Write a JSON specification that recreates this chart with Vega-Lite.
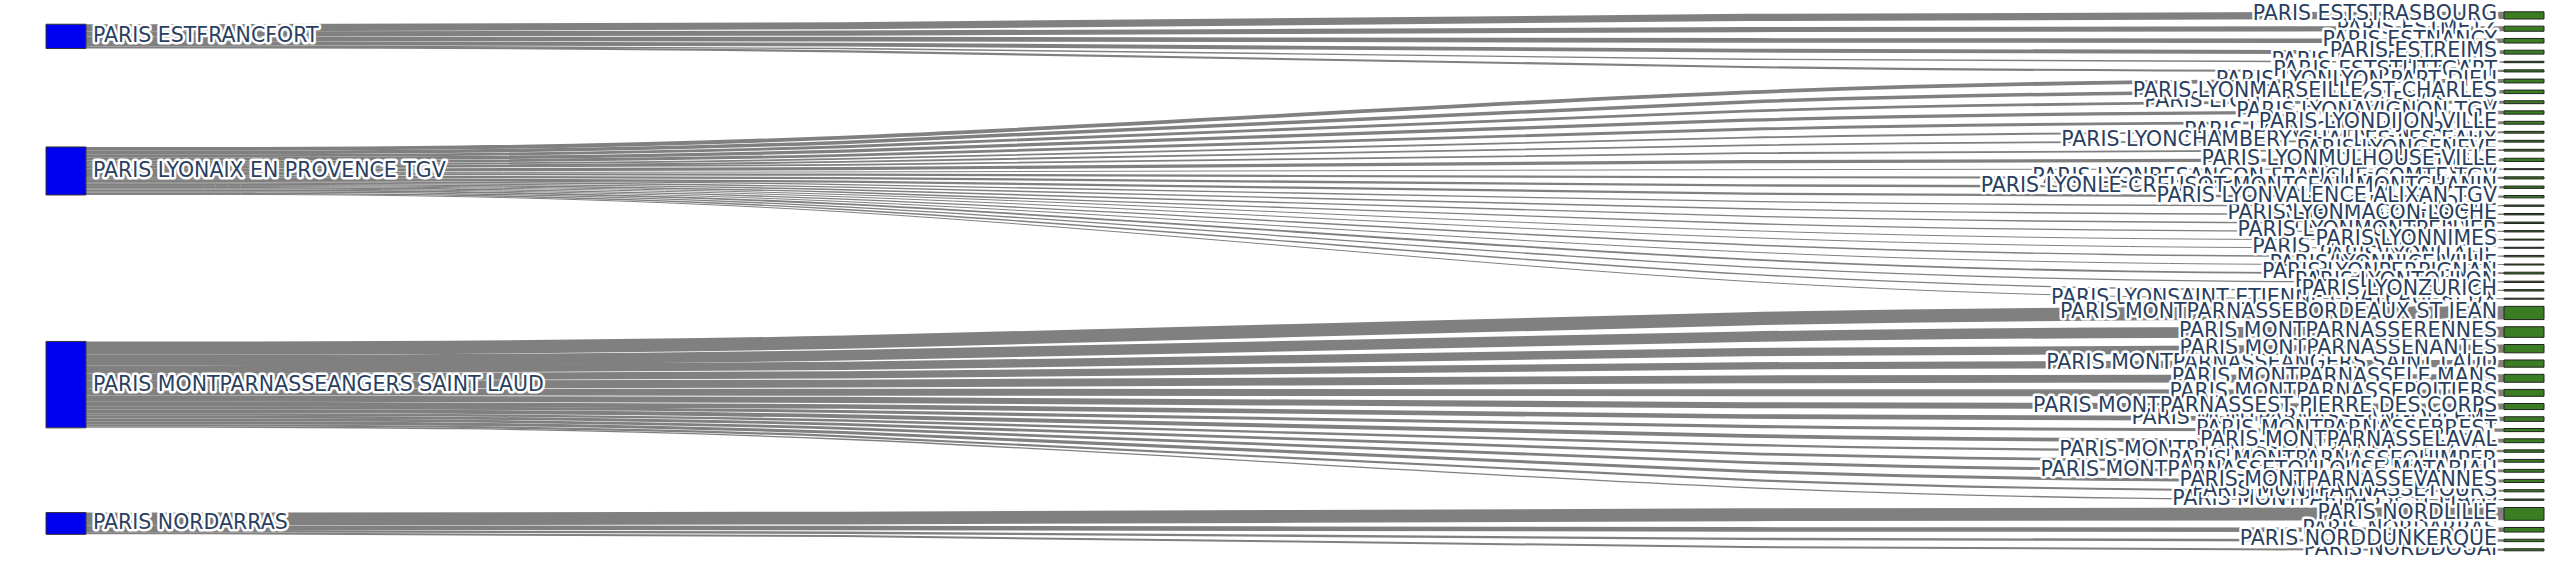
{
  "$schema": "https://vega.github.io/schema/vega-lite/v6.json",
  "width": 2566,
  "height": 582,
  "padding": 0,
  "autosize": {"type": "fit", "contains": "padding"},
  "background": "white",
  "config": {"view": {"stroke": null}},
  "data": {
    "values": [
      {"source": "PARIS ESTFRANCFORT", "target": "PARIS ESTSTRASBOURG", "value": 72},
      {"source": "PARIS ESTFRANCFORT", "target": "PARIS ESTMETZ", "value": 51},
      {"source": "PARIS ESTFRANCFORT", "target": "PARIS ESTNANCY", "value": 46},
      {"source": "PARIS ESTFRANCFORT", "target": "PARIS ESTREIMS", "value": 39},
      {"source": "PARIS ESTFRANCFORT", "target": "PARIS ESTFRANCFORT", "value": 14},
      {"source": "PARIS ESTFRANCFORT", "target": "PARIS ESTSTUTTGART", "value": 21},
      {"source": "PARIS LYONAIX EN PROVENCE TGV", "target": "PARIS LYONLYON PART DIEU", "value": 38},
      {"source": "PARIS LYONAIX EN PROVENCE TGV", "target": "PARIS LYONMARSEILLE ST CHARLES", "value": 35},
      {"source": "PARIS LYONAIX EN PROVENCE TGV", "target": "PARIS LYONAIX EN PROVENCE TGV", "value": 29},
      {"source": "PARIS LYONAIX EN PROVENCE TGV", "target": "PARIS LYONAVIGNON TGV", "value": 33},
      {"source": "PARIS LYONAIX EN PROVENCE TGV", "target": "PARIS LYONDIJON VILLE", "value": 29},
      {"source": "PARIS LYONAIX EN PROVENCE TGV", "target": "PARIS LYONBOURG EN BRESSE", "value": 18},
      {"source": "PARIS LYONAIX EN PROVENCE TGV", "target": "PARIS LYONCHAMBERY CHALLES LES EAUX", "value": 18},
      {"source": "PARIS LYONAIX EN PROVENCE TGV", "target": "PARIS LYONGENEVE", "value": 18},
      {"source": "PARIS LYONAIX EN PROVENCE TGV", "target": "PARIS LYONMULHOUSE VILLE", "value": 32},
      {"source": "PARIS LYONAIX EN PROVENCE TGV", "target": "PARIS LYONANNECY", "value": 10},
      {"source": "PARIS LYONAIX EN PROVENCE TGV", "target": "PARIS LYONBESANCON FRANCHE COMTE TGV", "value": 21},
      {"source": "PARIS LYONAIX EN PROVENCE TGV", "target": "PARIS LYONLE CREUSOT MONTCEAU MONTCHANIN", "value": 23},
      {"source": "PARIS LYONAIX EN PROVENCE TGV", "target": "PARIS LYONVALENCE ALIXAN TGV", "value": 23},
      {"source": "PARIS LYONAIX EN PROVENCE TGV", "target": "PARIS LYONGRENOBLE", "value": 13},
      {"source": "PARIS LYONAIX EN PROVENCE TGV", "target": "PARIS LYONMACON LOCHE", "value": 14},
      {"source": "PARIS LYONAIX EN PROVENCE TGV", "target": "PARIS LYONLAUSANNE", "value": 14},
      {"source": "PARIS LYONAIX EN PROVENCE TGV", "target": "PARIS LYONMONTPELLIER", "value": 13},
      {"source": "PARIS LYONAIX EN PROVENCE TGV", "target": "PARIS LYONNIMES", "value": 10},
      {"source": "PARIS LYONAIX EN PROVENCE TGV", "target": "PARIS LYONANNEMASSE", "value": 10},
      {"source": "PARIS LYONAIX EN PROVENCE TGV", "target": "PARIS LYONITALIE", "value": 14},
      {"source": "PARIS LYONAIX EN PROVENCE TGV", "target": "PARIS LYONNICE VILLE", "value": 10},
      {"source": "PARIS LYONAIX EN PROVENCE TGV", "target": "PARIS LYONPERPIGNAN", "value": 18},
      {"source": "PARIS LYONAIX EN PROVENCE TGV", "target": "PARIS LYONTOULON", "value": 13},
      {"source": "PARIS LYONAIX EN PROVENCE TGV", "target": "PARIS LYONZURICH", "value": 14},
      {"source": "PARIS LYONAIX EN PROVENCE TGV", "target": "PARIS LYONSAINT ETIENNE CHATEAUCREUX", "value": 10},
      {"source": "PARIS MONTPARNASSEANGERS SAINT LAUD", "target": "PARIS MONTPARNASSEBORDEAUX ST JEAN", "value": 132},
      {"source": "PARIS MONTPARNASSEANGERS SAINT LAUD", "target": "PARIS MONTPARNASSERENNES", "value": 106},
      {"source": "PARIS MONTPARNASSEANGERS SAINT LAUD", "target": "PARIS MONTPARNASSENANTES", "value": 83},
      {"source": "PARIS MONTPARNASSEANGERS SAINT LAUD", "target": "PARIS MONTPARNASSEANGERS SAINT LAUD", "value": 72},
      {"source": "PARIS MONTPARNASSEANGERS SAINT LAUD", "target": "PARIS MONTPARNASSELE MANS", "value": 79},
      {"source": "PARIS MONTPARNASSEANGERS SAINT LAUD", "target": "PARIS MONTPARNASSEPOITIERS", "value": 69},
      {"source": "PARIS MONTPARNASSEANGERS SAINT LAUD", "target": "PARIS MONTPARNASSEST PIERRE DES CORPS", "value": 61},
      {"source": "PARIS MONTPARNASSEANGERS SAINT LAUD", "target": "PARIS MONTPARNASSEANGOULEME", "value": 46},
      {"source": "PARIS MONTPARNASSEANGERS SAINT LAUD", "target": "PARIS MONTPARNASSEBREST", "value": 31},
      {"source": "PARIS MONTPARNASSEANGERS SAINT LAUD", "target": "PARIS MONTPARNASSELAVAL", "value": 39},
      {"source": "PARIS MONTPARNASSEANGERS SAINT LAUD", "target": "PARIS MONTPARNASSELA ROCHELLE VILLE", "value": 24},
      {"source": "PARIS MONTPARNASSEANGERS SAINT LAUD", "target": "PARIS MONTPARNASSEQUIMPER", "value": 28},
      {"source": "PARIS MONTPARNASSEANGERS SAINT LAUD", "target": "PARIS MONTPARNASSETOULOUSE MATABIAU", "value": 28},
      {"source": "PARIS MONTPARNASSEANGERS SAINT LAUD", "target": "PARIS MONTPARNASSEVANNES", "value": 31},
      {"source": "PARIS MONTPARNASSEANGERS SAINT LAUD", "target": "PARIS MONTPARNASSETOURS", "value": 22},
      {"source": "PARIS MONTPARNASSEANGERS SAINT LAUD", "target": "PARIS MONTPARNASSEST MALO", "value": 13},
      {"source": "PARIS NORDARRAS", "target": "PARIS NORDLILLE", "value": 128},
      {"source": "PARIS NORDARRAS", "target": "PARIS NORDARRAS", "value": 46},
      {"source": "PARIS NORDARRAS", "target": "PARIS NORDDUNKERQUE", "value": 24},
      {"source": "PARIS NORDARRAS", "target": "PARIS NORDDOUAI", "value": 20}
    ]
  },
  "transform": [
    {"window": [{"op": "sum", "field": "value", "as": "cumAll"}, {"op": "row_number", "as": "idx"}]},
    {"calculate": "11.8 + (datum.cumAll - datum.value) * 0.1 + (datum.idx - 1) * 7.17", "as": "ty0"},
    {"calculate": "datum.ty0 + datum.value * 0.1", "as": "ty1"},
    {"window": [{"op": "sum", "field": "value", "as": "scum"}], "groupby": ["source"]},
    {"calculate": "(datum.scum - datum.value) * 0.1", "as": "so0"},
    {"calculate": "datum.value * (datum.ty0 - datum.so0)", "as": "wterm"},
    {"joinaggregate": [{"op": "sum", "field": "value", "as": "stot"}, {"op": "sum", "field": "wterm", "as": "wsum"}], "groupby": ["source"]},
    {"calculate": "datum.wsum / datum.stot", "as": "sy0"},
    {"calculate": "datum.sy0 + datum.stot * 0.1", "as": "sy1"},
    {"calculate": "datum.sy0 + datum.so0", "as": "ly0"},
    {"calculate": "datum.ly0 + datum.value * 0.1", "as": "ly1"},
    {"calculate": "(datum.ly0 + datum.ly1) / 2", "as": "lc"},
    {"calculate": "(datum.ty0 + datum.ty1) / 2", "as": "rc"},
    {"calculate": "datum.value * 0.1", "as": "w"},
    {"window": [{"op": "lag", "field": "target", "as": "prevT"}, {"op": "lead", "field": "target", "as": "nextT"}], "sort": [{"field": "idx", "order": "ascending"}], "frame": [null, null]},
    {"calculate": "datum.prevT != null && datum.target > datum.prevT ? 0 : 1", "as": "brkA"},
    {"calculate": "datum.nextT != null && datum.target > datum.nextT ? 0 : 1", "as": "brkB"},
    {"window": [{"op": "sum", "field": "brkA", "as": "runA"}], "sort": [{"field": "idx", "order": "ascending"}]},
    {"window": [{"op": "row_number", "as": "posA"}], "groupby": ["runA"], "sort": [{"field": "idx", "order": "ascending"}]},
    {"window": [{"op": "sum", "field": "brkB", "as": "runB"}], "sort": [{"field": "idx", "order": "descending"}]},
    {"window": [{"op": "row_number", "as": "posB"}], "groupby": ["runB"], "sort": [{"field": "idx", "order": "descending"}]},
    {"calculate": "max(datum.posA, datum.posB)", "as": "zl"}
  ],
  "layer": [
    {
      "transform": [
        {"fold": ["ly0", "ly1", "ty0", "ty1"], "as": ["pk", "pv"]},
        {"calculate": "datum.pk == 'ly0' ? 0 : datum.pk == 'ly1' ? 1 : datum.pk == 'ty0' ? 2 : 3", "as": "ord"},
        {"calculate": "datum.ord == 0 ? 0.016 : datum.ord == 1 ? 0.3 : datum.ord == 2 ? 0.7 : 0.984", "as": "px"},
        {"calculate": "datum.ord < 2 ? datum.lc : datum.rc", "as": "py"}
      ],
      "mark": {"type": "line", "interpolate": "basis", "color": "#808080", "strokeCap": "butt"},
      "encoding": {
        "x": {"field": "px", "type": "quantitative", "scale": {"domain": [0, 1], "range": [46, 2544], "nice": false, "zero": false}, "axis": null},
        "y": {"field": "py", "type": "quantitative", "scale": {"domain": [0, 582], "reverse": true, "nice": false, "zero": false}, "axis": null},
        "detail": {"field": "target", "type": "nominal"},
        "order": {"field": "ord", "type": "quantitative"},
        "strokeWidth": {"field": "w", "type": "quantitative", "scale": null, "legend": null}
      }
    },
    {
      "transform": [
        {"aggregate": [{"op": "min", "field": "sy0", "as": "a"}, {"op": "min", "field": "sy1", "as": "b"}], "groupby": ["source"]}
      ],
      "mark": {"type": "rect", "fill": "#0000f0", "stroke": "#333333", "strokeWidth": 1},
      "encoding": {
        "x": {"datum": 0, "type": "quantitative"},
        "x2": {"datum": 0.016},
        "y": {"field": "a", "type": "quantitative"},
        "y2": {"field": "b"}
      }
    },
    {
      "mark": {"type": "rect", "fill": "#3a7d22", "stroke": "#222222", "strokeWidth": 1},
      "encoding": {
        "x": {"datum": 0.984, "type": "quantitative"},
        "x2": {"datum": 1},
        "y": {"field": "ty0", "type": "quantitative"},
        "y2": {"field": "ty1"}
      }
    },
    {"transform": [{"filter": "datum.zl == 1"}], "mark": {"type": "text", "align": "right", "baseline": "middle", "dx": -7, "dy": -1, "font": "DejaVu Sans", "fontSize": 20.5, "fill": "white", "stroke": "white", "strokeWidth": 5, "strokeJoin": "round"}, "encoding": {"x": {"datum": 0.984, "type": "quantitative"}, "y": {"field": "rc", "type": "quantitative"}, "text": {"field": "target"}}},
    {"transform": [{"filter": "datum.zl == 1"}], "mark": {"type": "text", "align": "right", "baseline": "middle", "dx": -7, "dy": -1, "font": "DejaVu Sans", "fontSize": 20.5, "fill": "#2a3f5f"}, "encoding": {"x": {"datum": 0.984, "type": "quantitative"}, "y": {"field": "rc", "type": "quantitative"}, "text": {"field": "target"}}},
    {"transform": [{"filter": "datum.zl == 2"}], "mark": {"type": "text", "align": "right", "baseline": "middle", "dx": -7, "dy": -1, "font": "DejaVu Sans", "fontSize": 20.5, "fill": "white", "stroke": "white", "strokeWidth": 5, "strokeJoin": "round"}, "encoding": {"x": {"datum": 0.984, "type": "quantitative"}, "y": {"field": "rc", "type": "quantitative"}, "text": {"field": "target"}}},
    {"transform": [{"filter": "datum.zl == 2"}], "mark": {"type": "text", "align": "right", "baseline": "middle", "dx": -7, "dy": -1, "font": "DejaVu Sans", "fontSize": 20.5, "fill": "#2a3f5f"}, "encoding": {"x": {"datum": 0.984, "type": "quantitative"}, "y": {"field": "rc", "type": "quantitative"}, "text": {"field": "target"}}},
    {"transform": [{"filter": "datum.zl == 3"}], "mark": {"type": "text", "align": "right", "baseline": "middle", "dx": -7, "dy": -1, "font": "DejaVu Sans", "fontSize": 20.5, "fill": "white", "stroke": "white", "strokeWidth": 5, "strokeJoin": "round"}, "encoding": {"x": {"datum": 0.984, "type": "quantitative"}, "y": {"field": "rc", "type": "quantitative"}, "text": {"field": "target"}}},
    {"transform": [{"filter": "datum.zl == 3"}], "mark": {"type": "text", "align": "right", "baseline": "middle", "dx": -7, "dy": -1, "font": "DejaVu Sans", "fontSize": 20.5, "fill": "#2a3f5f"}, "encoding": {"x": {"datum": 0.984, "type": "quantitative"}, "y": {"field": "rc", "type": "quantitative"}, "text": {"field": "target"}}},
    {"transform": [{"filter": "datum.zl == 4"}], "mark": {"type": "text", "align": "right", "baseline": "middle", "dx": -7, "dy": -1, "font": "DejaVu Sans", "fontSize": 20.5, "fill": "white", "stroke": "white", "strokeWidth": 5, "strokeJoin": "round"}, "encoding": {"x": {"datum": 0.984, "type": "quantitative"}, "y": {"field": "rc", "type": "quantitative"}, "text": {"field": "target"}}},
    {"transform": [{"filter": "datum.zl == 4"}], "mark": {"type": "text", "align": "right", "baseline": "middle", "dx": -7, "dy": -1, "font": "DejaVu Sans", "fontSize": 20.5, "fill": "#2a3f5f"}, "encoding": {"x": {"datum": 0.984, "type": "quantitative"}, "y": {"field": "rc", "type": "quantitative"}, "text": {"field": "target"}}},
    {"transform": [{"filter": "datum.zl == 5"}], "mark": {"type": "text", "align": "right", "baseline": "middle", "dx": -7, "dy": -1, "font": "DejaVu Sans", "fontSize": 20.5, "fill": "white", "stroke": "white", "strokeWidth": 5, "strokeJoin": "round"}, "encoding": {"x": {"datum": 0.984, "type": "quantitative"}, "y": {"field": "rc", "type": "quantitative"}, "text": {"field": "target"}}},
    {"transform": [{"filter": "datum.zl == 5"}], "mark": {"type": "text", "align": "right", "baseline": "middle", "dx": -7, "dy": -1, "font": "DejaVu Sans", "fontSize": 20.5, "fill": "#2a3f5f"}, "encoding": {"x": {"datum": 0.984, "type": "quantitative"}, "y": {"field": "rc", "type": "quantitative"}, "text": {"field": "target"}}},
    {"transform": [{"filter": "datum.zl >= 6"}], "mark": {"type": "text", "align": "right", "baseline": "middle", "dx": -7, "dy": -1, "font": "DejaVu Sans", "fontSize": 20.5, "fill": "white", "stroke": "white", "strokeWidth": 5, "strokeJoin": "round"}, "encoding": {"x": {"datum": 0.984, "type": "quantitative"}, "y": {"field": "rc", "type": "quantitative"}, "text": {"field": "target"}}},
    {"transform": [{"filter": "datum.zl >= 6"}], "mark": {"type": "text", "align": "right", "baseline": "middle", "dx": -7, "dy": -1, "font": "DejaVu Sans", "fontSize": 20.5, "fill": "#2a3f5f"}, "encoding": {"x": {"datum": 0.984, "type": "quantitative"}, "y": {"field": "rc", "type": "quantitative"}, "text": {"field": "target"}}},
    {
      "transform": [
        {"aggregate": [{"op": "min", "field": "sy0", "as": "a"}, {"op": "min", "field": "sy1", "as": "b"}], "groupby": ["source"]},
        {"calculate": "(datum.a + datum.b) / 2", "as": "c"}
      ],
      "mark": {"type": "text", "align": "left", "baseline": "middle", "dx": 7, "font": "DejaVu Sans", "fontSize": 20.5, "fill": "white", "stroke": "white", "strokeWidth": 5, "strokeJoin": "round"},
      "encoding": {
        "x": {"datum": 0.016, "type": "quantitative"},
        "y": {"field": "c", "type": "quantitative"},
        "text": {"field": "source"}
      }
    },
    {
      "transform": [
        {"aggregate": [{"op": "min", "field": "sy0", "as": "a"}, {"op": "min", "field": "sy1", "as": "b"}], "groupby": ["source"]},
        {"calculate": "(datum.a + datum.b) / 2", "as": "c"}
      ],
      "mark": {"type": "text", "align": "left", "baseline": "middle", "dx": 7, "font": "DejaVu Sans", "fontSize": 20.5, "fill": "#2a3f5f"},
      "encoding": {
        "x": {"datum": 0.016, "type": "quantitative"},
        "y": {"field": "c", "type": "quantitative"},
        "text": {"field": "source"}
      }
    }
  ]
}
